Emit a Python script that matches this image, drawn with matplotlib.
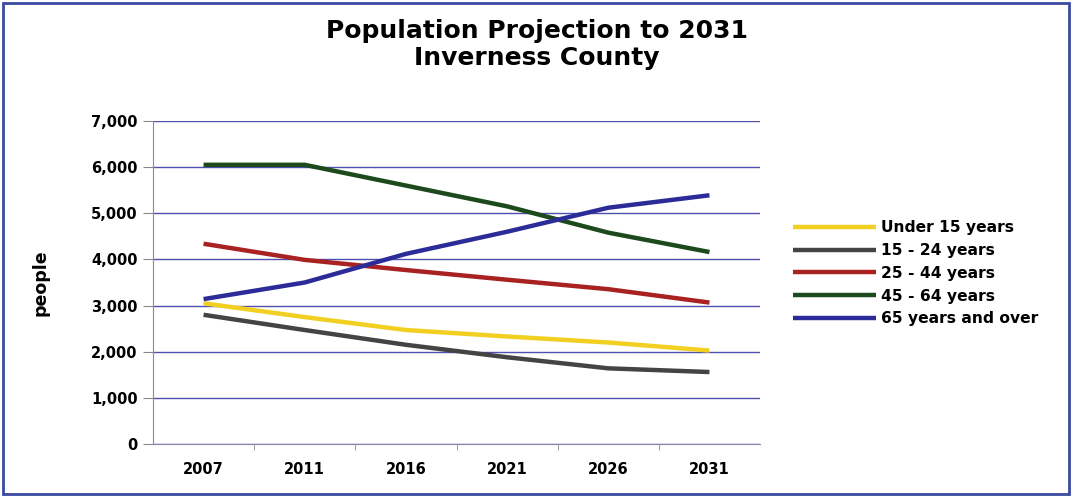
import matplotlib.pyplot as plt
from matplotlib.patches import Rectangle
from matplotlib.ticker import FuncFormatter

# Données
years = ["2007", "2011", "2016", "2021", "2026", "2031"]
under_15 = [3050, 2750, 2470, 2330, 2200, 2025]
age_15_24 = [2800, 2470, 2150, 1880, 1640, 1560]
age_25_44 = [4340, 3990, 3770, 3560, 3355, 3065]
age_45_64 = [6050, 6050, 5600, 5150, 4580, 4160]
age_65_plus = [3140, 3500, 4120, 4600, 5120, 5390]

labels = ["Under 15 years", "15 - 24 years", "25 - 44 years",
          "45 - 64 years", "65 years and over"]
colors = ["#f2d022", "#444444", "#a82222", "#1c4a1c", "#2c2c98"]
series = [under_15, age_15_24, age_25_44, age_45_64, age_65_plus]

plt.rcParams["font.family"] = ["DejaVu Sans"]

fig = plt.figure(figsize=(10.72, 4.97), dpi=100)
ax = fig.add_axes([0.1427, 0.1066, 0.5663, 0.65])

x = range(len(years))
for vals, lab, col in zip(series, labels, colors):
    ax.plot(x, vals, color=col, linewidth=3.2, label=lab, solid_capstyle="butt")

ax.set_xlim(-0.5, len(years) - 0.5)
ax.set_ylim(0, 7000)
ax.set_yticks(range(0, 7001, 1000))
ax.yaxis.set_major_formatter(FuncFormatter(lambda v, p: f"{int(v):,}"))
ax.set_xticks(list(x))
ax.set_xticklabels(years)
ax.set_xticks([i + 0.5 for i in range(len(years) - 1)], minor=True)
ax.tick_params(axis="x", which="major", length=0, pad=13)
ax.tick_params(axis="x", which="minor", length=4, color="#888888")
ax.tick_params(axis="y", length=7, color="#888888", pad=4)
for lbl in ax.get_xticklabels() + ax.get_yticklabels():
    lbl.set_fontweight("bold")
    lbl.set_fontsize(10.5)

ax.grid(axis="y", color="#5050b0", linewidth=1)
ax.set_axisbelow(True)
for s in ["top", "right"]:
    ax.spines[s].set_visible(False)
ax.spines["left"].set_color("#8888aa")
ax.spines["bottom"].set_color("#8888aa")

ax.set_ylabel("people", fontsize=12.5, fontweight="bold",
              family="Liberation Sans Narrow", labelpad=30)

fig.text(0.501, 0.937, "Population Projection to 2031", ha="center", va="center",
         fontsize=18, fontweight="bold")
fig.text(0.501, 0.884, "Inverness County", ha="center", va="center",
         fontsize=18, fontweight="bold")

leg = fig.legend(loc="upper left", bbox_to_anchor=(0.727, 0.585), frameon=False,
                 handlelength=5.3, labelspacing=0.5, handletextpad=0.35,
                 prop={"weight": "bold", "size": 11.2})

fig.add_artist(Rectangle((0.003, 0.006), 0.994, 0.988, transform=fig.transFigure,
                         fill=False, edgecolor="#3a4aa0", linewidth=2))

fig.savefig("out.png", dpi=100)
